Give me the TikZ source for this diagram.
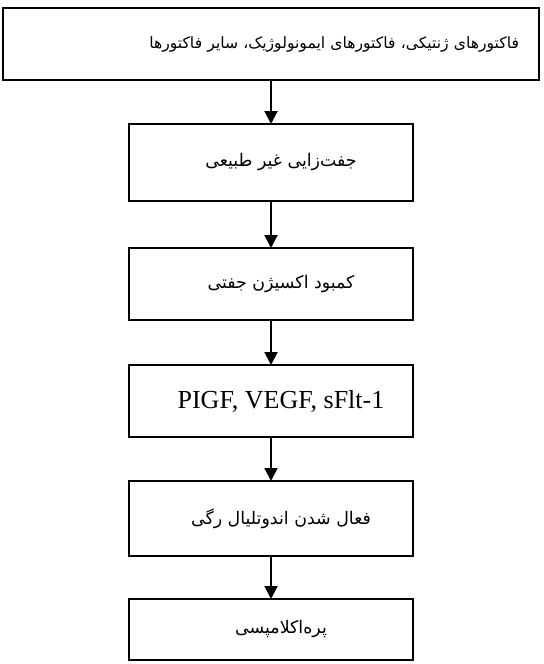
\documentclass[tikz,border=0pt]{standalone}
\usepackage{fontspec}
\setmainfont{Liberation Serif}
\newfontfamily\farsi[Script=Arabic]{DejaVu Sans}
\TeXXeTstate=1
\usetikzlibrary{arrows.meta,positioning}
\newcommand{\padl}{\hspace*{10pt}}

\begin{document}
\begin{tikzpicture}[
  x=0.5pt, y=-0.5pt,
  font=\fontsize{13}{15}\selectfont,
  box/.style={draw, line width=1pt, inner xsep=0pt, inner ysep=0pt,
              outer sep=0pt, minimum width=142pt, align=center},
  wide/.style={minimum width=268pt, inner xsep=10pt, text width=248pt,
               align=right},
  fa/.style={font=\farsi\fontsize{8.7}{11}\selectfont},
  arr/.style={line width=1pt, -{Triangle[length=6.5pt, width=6.5pt]}}
]
\useasboundingbox (0,0) rectangle (544,664);
\node[box, wide, fa, font=\farsi\fontsize{7.8}{11}\selectfont,
      minimum height=36pt, anchor=north] (fac) at (271,8)
  {\beginR فاکتورهای ژنتیکی، فاکتورهای ایمونولوژیک، سایر فاکتورها\endR};
\node[box, fa, minimum height=38.5pt, below=22pt of fac] (plac)
  {\padl\beginR جفت‌زایی غیر طبیعی\endR};
\node[box, fa, minimum height=36pt, below=23.5pt of plac] (hyp)
  {\padl\beginR کمبود اکسیژن جفتی\endR};
\node[box, minimum height=36pt, below=22.5pt of hyp] (gf)
  {\padl PIGF, VEGF, sFlt-1};
\node[box, fa, minimum height=37.5pt, below=22pt of gf] (endo)
  {\padl\beginR فعال شدن اندوتلیال رگی\endR};
\node[box, fa, minimum height=30.5pt, below=21.5pt of endo] (pe)
  {\padl\beginR پره‌اکلامپسی\endR};
\draw[arr] (fac) -- (plac);
\draw[arr] (plac) -- (hyp);
\draw[arr] (hyp) -- (gf);
\draw[arr] (gf) -- (endo);
\draw[arr] (endo) -- (pe);
\end{tikzpicture}
\end{document}
